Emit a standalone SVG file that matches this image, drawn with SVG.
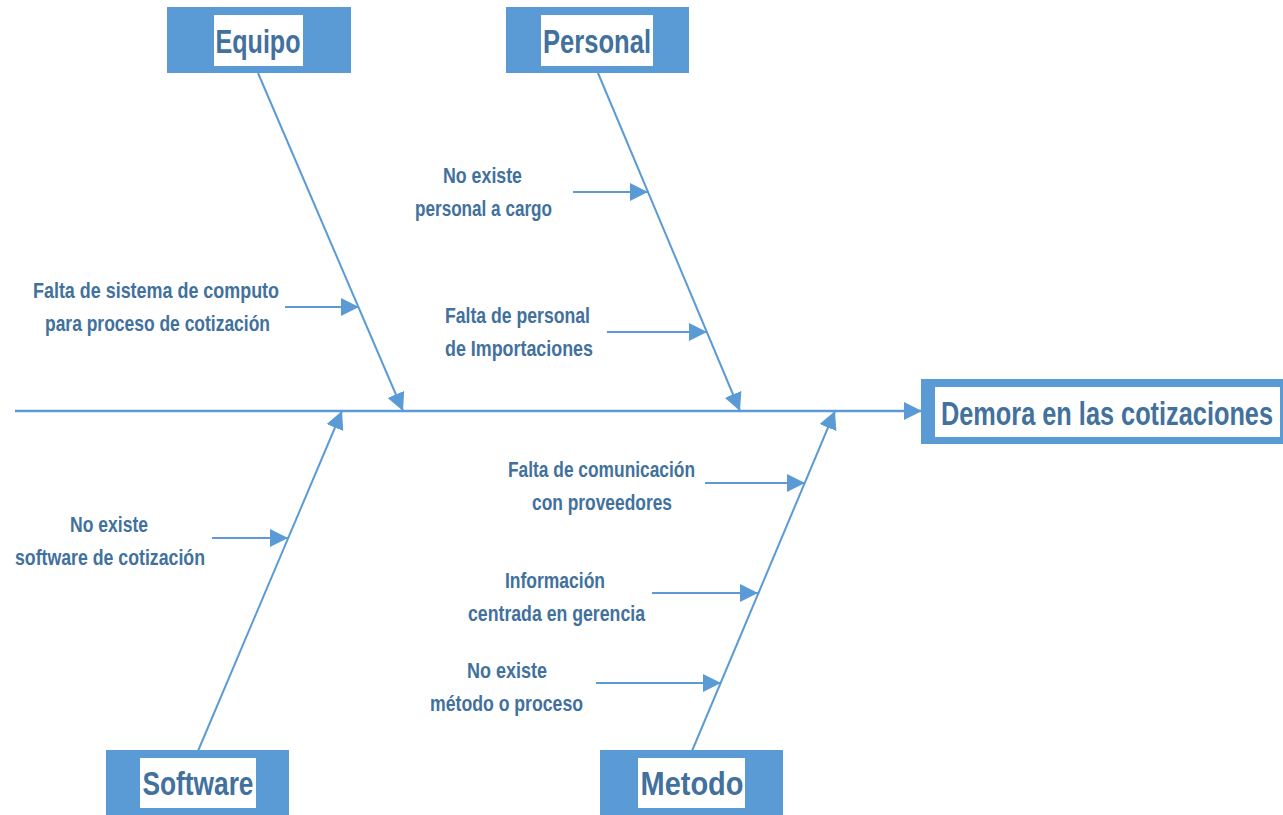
<svg xmlns="http://www.w3.org/2000/svg" width="1283" height="815" viewBox="0 0 1283 815">
  <style>
    .box { fill: #5b9bd5; }
    .inner { fill: #ffffff; }
    .title { font-family: "Liberation Sans Narrow", "Liberation Sans", Arial, sans-serif; font-weight: bold; font-size: 33px; fill: #41719c; text-anchor: middle; }
    .label { font-family: "Liberation Sans Narrow", "Liberation Sans", Arial, sans-serif; font-weight: bold; font-size: 22px; fill: #41719c; text-anchor: middle; }
    .bone { stroke: #5b9bd5; stroke-width: 2; fill: none; marker-end: url(#head); }
    .spine { stroke: #5b9bd5; stroke-width: 2.5; fill: none; marker-end: url(#head); }
  </style>
  <defs>
    <marker id="head" markerUnits="userSpaceOnUse" markerWidth="18" markerHeight="18" viewBox="0 0 18 18" refX="18" refY="9" orient="auto">
      <path d="M0,0 L18,9 L0,18 z" fill="#5b9bd5"/>
    </marker>
  </defs>

  <rect width="1283" height="815" fill="#ffffff"/>

  <!-- connectors: spine, main bones and cause arrows -->
  <g id="connectors">
    <line class="spine" x1="15" y1="411" x2="922" y2="411"/>
    <line class="bone" x1="258" y1="73" x2="403" y2="411"/>
    <line class="bone" x1="598" y1="73" x2="740" y2="411"/>
    <line class="bone" x1="198" y1="751" x2="342" y2="411"/>
    <line class="bone" x1="692" y1="751" x2="835" y2="411"/>

    <line class="bone" x1="285" y1="307" x2="359" y2="307"/>
    <line class="bone" x1="573" y1="192" x2="648" y2="192"/>
    <line class="bone" x1="607" y1="332" x2="707" y2="332"/>
    <line class="bone" x1="705" y1="483" x2="805" y2="483"/>
    <line class="bone" x1="652" y1="593" x2="758" y2="593"/>
    <line class="bone" x1="596" y1="683" x2="721" y2="683"/>
    <line class="bone" x1="212" y1="538" x2="288" y2="538"/>
  </g>

  <!-- category boxes -->
  <g id="equipo">
    <rect class="box" x="167" y="7" width="184" height="66"/>
    <rect class="inner" x="214" y="15" width="89" height="51"/>
    <text class="title" x="258" y="53" textLength="85" lengthAdjust="spacingAndGlyphs">Equipo</text>
  </g>
  <g id="personal">
    <rect class="box" x="506" y="7" width="183" height="66"/>
    <rect class="inner" x="541" y="15" width="112" height="51"/>
    <text class="title" x="597" y="53" textLength="108" lengthAdjust="spacingAndGlyphs">Personal</text>
  </g>
  <g id="software">
    <rect class="box" x="106" y="750" width="183" height="65"/>
    <rect class="inner" x="140" y="758" width="116" height="50"/>
    <text class="title" x="198" y="795" textLength="111" lengthAdjust="spacingAndGlyphs">Software</text>
  </g>
  <g id="metodo">
    <rect class="box" x="600" y="750" width="183" height="65"/>
    <rect class="inner" x="638" y="758" width="107" height="50"/>
    <text class="title" x="692" y="795" textLength="103" lengthAdjust="spacingAndGlyphs">Metodo</text>
  </g>

  <!-- effect box -->
  <g id="efecto">
    <rect class="box" x="921" y="379" width="362" height="65"/>
    <rect class="inner" x="935" y="387" width="345" height="50"/>
    <text class="title" x="1107" y="425" textLength="332" lengthAdjust="spacingAndGlyphs">Demora en las cotizaciones</text>
  </g>

  <!-- causes -->
  <g id="causa-computo">
    <text class="label" x="156" y="298" textLength="246" lengthAdjust="spacingAndGlyphs">Falta de sistema de computo</text>
    <text class="label" x="157.5" y="331" textLength="225" lengthAdjust="spacingAndGlyphs">para proceso de cotización</text>
  </g>
  <g id="causa-personal-cargo">
    <text class="label" x="482.5" y="183" textLength="79" lengthAdjust="spacingAndGlyphs">No existe</text>
    <text class="label" x="483.5" y="216" textLength="137" lengthAdjust="spacingAndGlyphs">personal a cargo</text>
  </g>
  <g id="causa-importaciones">
    <text class="label" x="517.5" y="323" textLength="145" lengthAdjust="spacingAndGlyphs">Falta de personal</text>
    <text class="label" x="519" y="356" textLength="148" lengthAdjust="spacingAndGlyphs">de Importaciones</text>
  </g>
  <g id="causa-comunicacion">
    <text class="label" x="601.5" y="477" textLength="187" lengthAdjust="spacingAndGlyphs">Falta de comunicación</text>
    <text class="label" x="602" y="510" textLength="140" lengthAdjust="spacingAndGlyphs">con proveedores</text>
  </g>
  <g id="causa-informacion">
    <text class="label" x="555" y="588" textLength="100" lengthAdjust="spacingAndGlyphs">Información</text>
    <text class="label" x="556.5" y="621" textLength="177" lengthAdjust="spacingAndGlyphs">centrada en gerencia</text>
  </g>
  <g id="causa-metodo">
    <text class="label" x="507" y="678" textLength="80" lengthAdjust="spacingAndGlyphs">No existe</text>
    <text class="label" x="506.5" y="711" textLength="153" lengthAdjust="spacingAndGlyphs">método o proceso</text>
  </g>
  <g id="causa-software">
    <text class="label" x="109" y="532" textLength="78" lengthAdjust="spacingAndGlyphs">No existe</text>
    <text class="label" x="110" y="565" textLength="190" lengthAdjust="spacingAndGlyphs">software de cotización</text>
  </g>
</svg>
